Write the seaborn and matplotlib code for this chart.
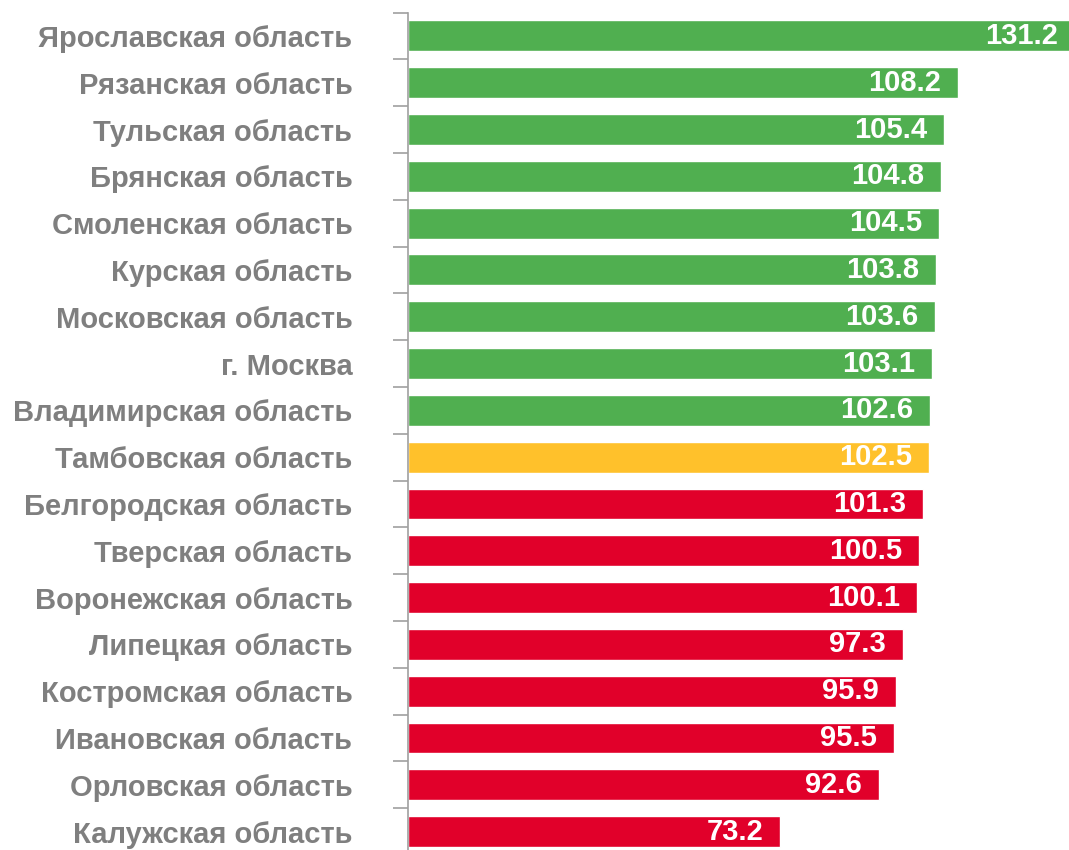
import numpy as np
import pandas as pd
import matplotlib.pyplot as plt
import seaborn as sns

# Data
regions = ["Ярославская область", "Рязанская область", "Тульская область",
           "Брянская область", "Смоленская область", "Курская область",
           "Московская область", "г. Москва", "Владимирская область",
           "Тамбовская область", "Белгородская область", "Тверская область",
           "Воронежская область", "Липецкая область", "Костромская область",
           "Ивановская область", "Орловская область", "Калужская область"]
values = [131.2, 108.2, 105.4, 104.8, 104.5, 103.8, 103.6, 103.1, 102.6,
          102.5, 101.3, 100.5, 100.1, 97.3, 95.9, 95.5, 92.6, 73.2]
groups = ["green"] * 9 + ["yellow"] + ["red"] * 8
group_colors = {"green": "#50AF50", "yellow": "#FFC12B", "red": "#E1002A"}

sns.set_style("white")
plt.rcParams['font.family'] = ['Liberation Sans', 'DejaVu Sans']

df = pd.DataFrame({"region": regions, "value": values, "group": groups})

fig = plt.figure(figsize=(10.69, 8.5), dpi=100)
ax = fig.add_axes([408 / 1069, -5 / 850, 1 - 408 / 1069, (850 - 12.5 + 5) / 850])

sns.barplot(data=df, x="value", y="region", hue="region",
            palette={r: group_colors[g] for r, g in zip(regions, groups)},
            legend=False, width=0.66, saturation=1, ax=ax)

# the longest bar runs slightly off the right edge in the original
ax.set_xlim(0, 130.0)
ax.set_ylim(len(regions) - 0.5, -0.5)
ax.set_xticks([])
ax.set_xlabel("")
ax.set_ylabel("")

# labels at bar centres, tick marks between the bars
ax.set_yticks(range(len(regions)), labels=regions)
ax.set_yticks(np.arange(-0.5, len(regions), 1), minor=True)
ax.tick_params(axis="y", which="major", left=False, length=0, pad=40,
               labelsize=21, labelcolor="#7f7f7f")
ax.tick_params(axis="y", which="minor", left=True, length=11, width=1.2,
               color="#a0a0a0")
for lbl in ax.get_yticklabels():
    lbl.set_fontweight("bold")

for side in ["top", "right", "bottom"]:
    ax.spines[side].set_visible(False)
ax.spines["left"].set_color("#a0a0a0")
ax.spines["left"].set_linewidth(1.2)

# value labels inside the bar ends
for i, v in enumerate(values):
    ax.annotate(f"{v:.1f}", xy=(v, i), xytext=(-12, 0), textcoords="offset points",
                ha="right", va="center", color="white",
                fontsize=21, fontweight="bold", annotation_clip=False)

plt.savefig("out.png", dpi=100)
